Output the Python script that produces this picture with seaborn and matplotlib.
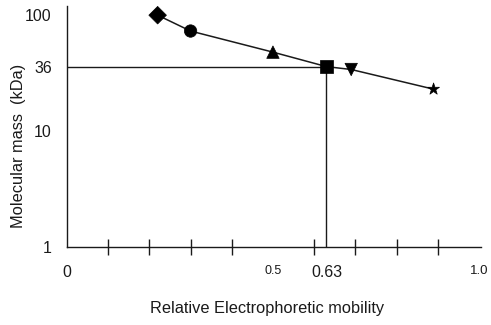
import matplotlib
matplotlib.use("Agg")
import matplotlib.pyplot as plt
import seaborn as sns
import pandas as pd
from matplotlib.ticker import FixedLocator, NullFormatter, FixedFormatter

# Data
proteins = ["p1", "p2", "p3", "p4", "p5", "p6"]
mobility = [0.22, 0.30, 0.50, 0.63, 0.69, 0.89]
mass_kda = [100, 73, 48, 36, 34, 23]
marker_shapes = ["D", "o", "^", "s", "v", "*"]
unknown_mobility = 0.63
unknown_mass = 36
x_tick_labels = ["0", "0.5", "0.63", "1.0"]
x_tick_values = [0, 0.5, 0.63, 1.0]
y_tick_values = [1, 10, 36, 100]
y_tick_labels = ["1", "10", "36", "100"]

df = pd.DataFrame({"protein": proteins, "mobility": mobility, "mass": mass_kda})

sns.set_style("ticks")
plt.rcParams["font.family"] = ["Liberation Sans", "DejaVu Sans"]

fig = plt.figure(figsize=(4.91, 3.25), dpi=100)
ax = fig.add_axes([0.1365, 0.24, 0.843, 0.7415])

sns.lineplot(data=df, x="mobility", y="mass", color="#1a1a1a", linewidth=1.1,
             ax=ax, legend=False, sort=False)
sns.scatterplot(data=df, x="mobility", y="mass", style="protein",
                markers=dict(zip(proteins, marker_shapes)), color="black",
                s=80, edgecolor="black", linewidth=0.5, ax=ax, legend=False,
                zorder=5)

# drop lines for the unknown
ax.plot([0, unknown_mobility], [unknown_mass, unknown_mass], color="#1a1a1a", lw=1.0)
ax.plot([unknown_mobility, unknown_mobility], [1, unknown_mass], color="#1a1a1a", lw=1.0)

ax.set_yscale("log")
ax.set_xlim(0, 1.005)
ax.set_ylim(1, 120)

sns.despine(ax=ax)
for sp in ["left", "bottom"]:
    ax.spines[sp].set_linewidth(1.0)
    ax.spines[sp].set_color("#1a1a1a")

# x ticks
ax.xaxis.set_major_locator(FixedLocator(x_tick_values))
ax.xaxis.set_major_formatter(FixedFormatter(x_tick_labels))
ax.xaxis.set_minor_locator(FixedLocator([0.1, 0.2, 0.3, 0.4, 0.5, 0.6, 0.7, 0.8, 0.9, 1.0]))
ax.xaxis.set_minor_formatter(NullFormatter())
ax.tick_params(axis="x", which="major", length=0, pad=13)
ax.tick_params(axis="x", which="minor", direction="inout", length=11, width=1.0, color="#1a1a1a")
sizes = [11.5, 9, 11.5, 9.5]
for lab, fs in zip(ax.get_xticklabels(), sizes):
    lab.set_fontsize(fs)
    lab.set_color("#1a1a1a")

# y ticks
ax.yaxis.set_major_locator(FixedLocator(y_tick_values))
ax.yaxis.set_major_formatter(FixedFormatter(y_tick_labels))
ax.yaxis.set_minor_locator(FixedLocator([10, 100]))
ax.yaxis.set_minor_formatter(NullFormatter())
ax.tick_params(axis="y", which="major", length=0, pad=11, labelsize=11.5, labelcolor="#1a1a1a")
ax.tick_params(axis="y", which="minor", direction="inout", length=12, width=1.0, color="#1a1a1a")

ax.set_xlabel("Relative Electrophoretic mobility", fontsize=11.8, color="#1a1a1a")
ax.xaxis.set_label_coords(0.484, -0.225)
ax.set_ylabel("Molecular mass  (kDa)", fontsize=11.8, color="#1a1a1a")
ax.yaxis.set_label_coords(-0.098, 0.42)

fig.savefig("out.png", dpi=100)
